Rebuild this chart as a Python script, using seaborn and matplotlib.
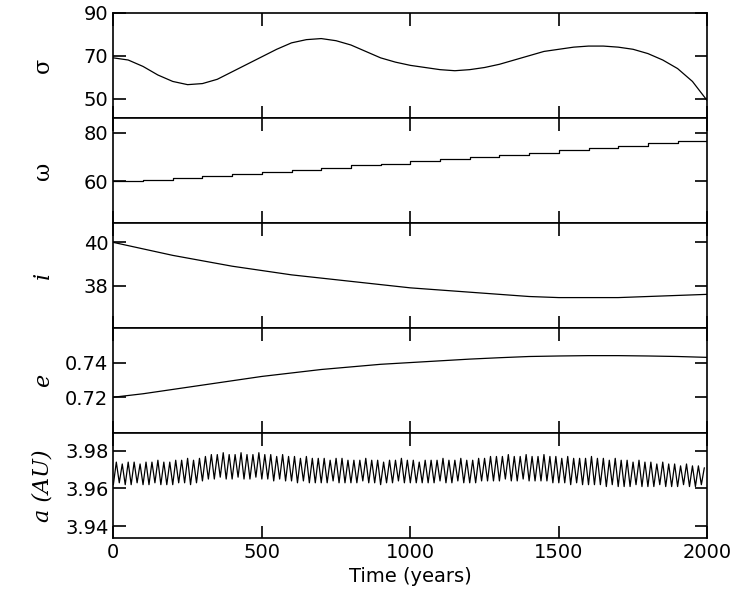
import numpy as np
import pandas as pd
import matplotlib.pyplot as plt
import seaborn as sns

sns.set_style("ticks")
plt.rcParams['font.family'] = ['DejaVu Sans']
plt.rcParams['text.color'] = 'black'
plt.rcParams['axes.labelcolor'] = 'black'
plt.rcParams['xtick.color'] = 'black'
plt.rcParams['ytick.color'] = 'black'
plt.rcParams['axes.edgecolor'] = 'black'

# smooth series, sampled every 50 / 100 years
t50 = list(range(0, 2001, 50))
sigma = [69, 68, 65, 61, 58, 56.5, 57, 59, 62.5, 66, 69.5, 73, 76, 77.5, 78, 77, 75, 72, 69, 67,
         65.5, 64.5, 63.5, 63, 63.5, 64.5, 66, 68, 70, 72, 73, 74, 74.5, 74.5, 74, 73, 71, 68, 64, 58, 49]
t100 = list(range(0, 2001, 100))
omega = [60, 60.5, 61.3, 62.2, 63.0, 63.9, 64.7, 65.6, 66.5, 67.3, 68.2, 69.1, 70.0, 70.9, 71.8,
         72.7, 73.6, 74.6, 75.6, 76.6, 77.7]
incl = [40.0, 39.7, 39.4, 39.15, 38.9, 38.7, 38.5, 38.35, 38.2, 38.05, 37.9, 37.8, 37.7, 37.6, 37.5,
        37.45, 37.45, 37.45, 37.5, 37.55, 37.6]
ecc = [0.720, 0.722, 0.7245, 0.727, 0.7295, 0.732, 0.734, 0.736, 0.7375, 0.739, 0.740, 0.741, 0.742,
       0.7428, 0.7435, 0.7438, 0.744, 0.744, 0.7438, 0.7435, 0.743]

# semi-major axis zigzag: highs and lows, one cycle every 20 years
a_hi = [3.974, 3.973, 3.974, 3.974, 3.973, 3.974, 3.974, 3.975, 3.974, 3.974,
        3.975, 3.975, 3.976, 3.975, 3.976, 3.977, 3.978, 3.978, 3.979, 3.978,
        3.978, 3.979, 3.978, 3.978, 3.979, 3.978, 3.978, 3.977, 3.978, 3.977,
        3.977, 3.976, 3.977, 3.976, 3.976, 3.976, 3.975, 3.976, 3.976, 3.975,
        3.975, 3.975, 3.976, 3.975, 3.975, 3.974, 3.975, 3.975, 3.976, 3.975,
        3.975, 3.974, 3.975, 3.975, 3.975, 3.976, 3.975, 3.975, 3.976, 3.975,
        3.975, 3.976, 3.976, 3.977, 3.977, 3.977, 3.978, 3.977, 3.977, 3.978,
        3.977, 3.977, 3.978, 3.977, 3.977, 3.976, 3.977, 3.976, 3.976, 3.976,
        3.977, 3.976, 3.976, 3.975, 3.976, 3.975, 3.975, 3.974, 3.975, 3.974,
        3.974, 3.973, 3.974, 3.973, 3.973, 3.972, 3.973, 3.972, 3.972, 3.971]
a_lo = [3.962, 3.963, 3.962, 3.962, 3.963, 3.962, 3.962, 3.963, 3.962, 3.962,
        3.962, 3.963, 3.963, 3.962, 3.963, 3.964, 3.965, 3.965, 3.966, 3.965,
        3.965, 3.966, 3.965, 3.965, 3.966, 3.965, 3.965, 3.964, 3.965, 3.964,
        3.964, 3.963, 3.964, 3.963, 3.963, 3.963, 3.963, 3.964, 3.963, 3.963,
        3.963, 3.963, 3.964, 3.963, 3.963, 3.962, 3.963, 3.963, 3.964, 3.963,
        3.963, 3.963, 3.963, 3.963, 3.963, 3.964, 3.963, 3.963, 3.964, 3.963,
        3.963, 3.963, 3.964, 3.964, 3.964, 3.964, 3.965, 3.964, 3.964, 3.965,
        3.964, 3.964, 3.964, 3.964, 3.963, 3.963, 3.963, 3.962, 3.963, 3.962,
        3.962, 3.962, 3.962, 3.961, 3.962, 3.961, 3.961, 3.961, 3.962, 3.961,
        3.961, 3.961, 3.962, 3.961, 3.961, 3.961, 3.962, 3.961, 3.961, 3.962]
t_a = []
a_vals = []
for k in range(100):
    t_a += [20 * k, 20 * k + 10]
    a_vals += [a_lo[k], a_hi[k]]

fig, axes = plt.subplots(5, 1, sharex=True, figsize=(7.36, 6.12), dpi=100)
fig.subplots_adjust(left=0.154, right=0.961, top=0.979, bottom=0.121, hspace=0)

panels = [
    (t50, sigma, (41, 90), [50, 70, 90], "σ", {}),
    (t100, omega, (43, 86), [60, 80], "ω", {"drawstyle": "steps-post"}),
    (t100, incl, (36.05, 40.9), [38, 40], "i", {}),
    (t100, ecc, (0.6994, 0.76), [0.72, 0.74], "e", {}),
    (t_a, a_vals, (3.9337, 3.9895), [3.94, 3.96, 3.98], "a (AU)", {}),
]
for ax, (x, y, lim, ticks, lab, kw) in zip(axes, panels):
    df = pd.DataFrame({"t": x, "v": y})
    sns.lineplot(data=df, x="t", y="v", ax=ax, color="black", linewidth=0.9, **kw)
    ax.set_ylim(*lim)
    ax.set_yticks(ticks)
    ax.set_xlim(0, 2000)
    ax.set_xticks([0, 500, 1000, 1500, 2000])
    ax.tick_params(direction="in", length=9, width=1.2, top=True, right=True, labelsize=14)
    for s in ax.spines.values():
        s.set_linewidth(1.2)
    if lab in ("σ", "ω"):
        ax.set_ylabel(lab, fontsize=16, family="DejaVu Serif")
    else:
        ax.set_ylabel(lab, fontsize=16, family="DejaVu Serif", style="italic")
    ax.yaxis.set_label_coords(-0.1, 0.5)
    ax.set_xlabel("")
axes[-1].set_xlabel("Time (years)", fontsize=14)
axes[3].set_yticklabels(["0.72", "0.74"])

fig.savefig("out.png", dpi=100)
